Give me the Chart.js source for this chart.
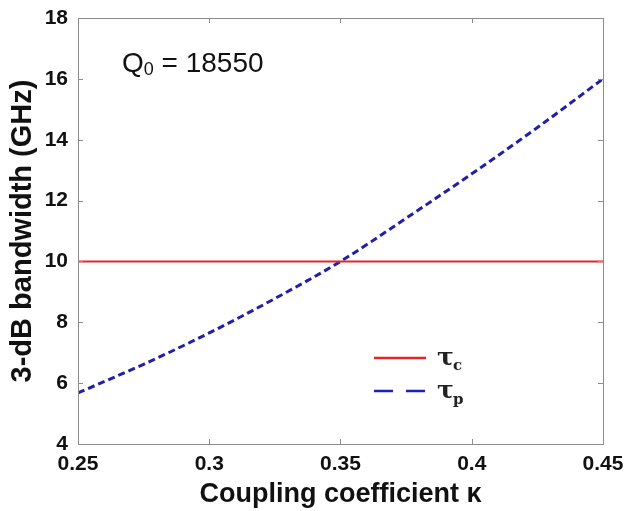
<!DOCTYPE html>
<html>
<head>
<meta charset="utf-8">
<script src="https://cdn.jsdelivr.net/npm/chart.js@4.4.1/dist/chart.umd.min.js"></script>
<style>
  body { margin: 0; background: #fff; }
  #wrap { width: 625px; height: 511px; }
</style>
</head>
<body>
<div id="wrap"><canvas id="bwChart" width="625" height="511"></canvas></div>
<script>
// Data
const kappa = [0.25, 0.275, 0.3, 0.325, 0.35, 0.375, 0.4, 0.425, 0.45];
const tauP = [5.68, 6.62, 7.65, 8.78, 10.0, 11.42, 12.88, 14.4, 16.0];
const tauC = [10, 10, 10, 10, 10, 10, 10, 10, 10];
const xTicks = [0.25, 0.3, 0.35, 0.4, 0.45];
const yTicks = [4, 6, 8, 10, 12, 14, 16, 18];

const FONT = "'Liberation Sans', Arial, sans-serif";
const axisGray = "#8c8c8c";

// box + inward tick marks, legend and the Q0 note
const framePlugin = {
  id: "frame",
  afterDatasetsDraw(chart) {
    const { ctx, chartArea: a, scales } = chart;
    ctx.save();
    ctx.strokeStyle = axisGray;
    ctx.lineWidth = 1;
    ctx.strokeRect(Math.round(a.left) + 0.5, Math.round(a.top) + 0.5,
      Math.round(a.right - a.left), Math.round(a.bottom - a.top));
    ctx.beginPath();
    xTicks.forEach((v) => {
      const px = Math.round(scales.x.getPixelForValue(v)) + 0.5;
      ctx.moveTo(px, a.bottom); ctx.lineTo(px, a.bottom - 5);
      ctx.moveTo(px, a.top); ctx.lineTo(px, a.top + 5);
    });
    yTicks.forEach((v) => {
      const py = Math.round(scales.y.getPixelForValue(v)) + 0.5;
      ctx.moveTo(a.left, py); ctx.lineTo(a.left + 5, py);
      ctx.moveTo(a.right, py); ctx.lineTo(a.right - 5, py);
    });
    ctx.stroke();

    // legend
    ctx.lineWidth = 2.5;
    ctx.strokeStyle = "#e3262a";
    ctx.beginPath(); ctx.moveTo(374, 358); ctx.lineTo(426, 358); ctx.stroke();
    ctx.strokeStyle = "#1f1fb4";
    ctx.setLineDash([19, 13]);
    ctx.beginPath(); ctx.moveTo(374, 391); ctx.lineTo(426, 391); ctx.stroke();
    ctx.setLineDash([]);
    ctx.fillStyle = "#222";
    ctx.textBaseline = "alphabetic";
    ctx.textAlign = "left";
    ctx.font = "bold 25px 'DejaVu Serif', serif";
    ctx.fillText("τ", 437, 365);
    ctx.fillText("τ", 437, 398);
    ctx.font = "bold 15px 'DejaVu Serif', serif";
    ctx.fillText("c", 453, 370);
    ctx.fillText("p", 453, 404);

    // Q0 note
    ctx.fillStyle = "#111";
    ctx.font = "28px " + FONT;
    ctx.fillText("Q", 122, 72);
    const qw = ctx.measureText("Q").width;
    ctx.font = "18px " + FONT;
    ctx.fillText("0", 122 + qw, 75);
    const zw = ctx.measureText("0").width;
    ctx.font = "28px " + FONT;
    ctx.fillText(" = 18550", 122 + qw + zw, 72);
    ctx.restore();
  },
};

const ctx = document.getElementById("bwChart").getContext("2d");
const bwChart = new Chart(ctx, {
  type: "line",
  data: {
    datasets: [
      {
        label: "τc",
        data: kappa.map((k, i) => ({ x: k, y: tauC[i] })),
        borderColor: "#e3262a",
        borderWidth: 2,
        pointRadius: 0,
      },
      {
        label: "τp",
        data: kappa.map((k, i) => ({ x: k, y: tauP[i] })),
        borderColor: "#1f1fa8",
        borderWidth: 3,
        borderDash: [7, 4],
        pointRadius: 0,
        cubicInterpolationMode: "monotone",
      },
    ],
  },
  options: {
    responsive: false,
    animation: false,
    layout: { padding: { left: 0, right: 22, top: 18, bottom: 0 } },
    plugins: {
      legend: { display: false },
      tooltip: { enabled: false },
    },
    scales: {
      x: {
        type: "linear",
        min: 0.25,
        max: 0.45,
        afterBuildTicks: (scale) => {
          scale.ticks = xTicks.map((v) => ({ value: v }));
        },
        afterFit: (scale) => {
          scale.height = 67;
          scale.paddingLeft = 0;
          scale.paddingRight = 0;
        },
        grid: { display: false, drawTicks: false },
        border: { display: false },
        ticks: {
          padding: 8,
          color: "#111",
          font: { family: FONT, size: 21, weight: "bold" },
          maxRotation: 0,
          callback: (v) => String(v),
        },
        title: {
          display: true,
          text: "Coupling coefficient κ",
          color: "#111",
          font: { family: FONT, size: 27, weight: "bold" },
          padding: { top: 0, bottom: 0 },
        },
      },
      y: {
        min: 4,
        max: 18,
        afterBuildTicks: (scale) => {
          scale.ticks = yTicks.map((v) => ({ value: v }));
        },
        afterFit: (scale) => {
          scale.width = 78;
          scale.paddingTop = 0;
          scale.paddingBottom = 0;
        },
        grid: { display: false, drawTicks: false },
        border: { display: false },
        ticks: {
          padding: 10,
          color: "#111",
          font: { family: FONT, size: 21, weight: "bold" },
        },
        title: {
          display: true,
          text: "3-dB bandwidth (GHz)",
          color: "#111",
          font: { family: FONT, size: 29, weight: "bold" },
          padding: { top: 6, bottom: 0 },
        },
      },
    },
  },
  plugins: [framePlugin],
});
</script>
</body>
</html>
